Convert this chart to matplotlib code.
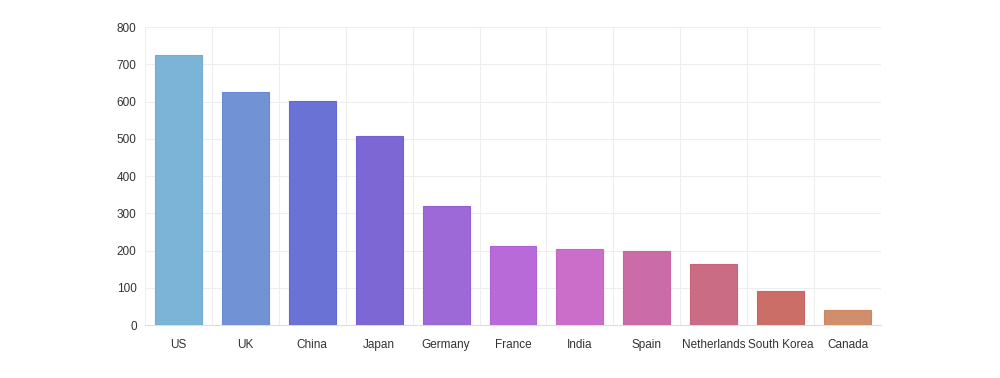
import numpy as np
import matplotlib.pyplot as plt

countries = ["US", "UK", "China", "Japan", "Germany", "France", "India",
             "Spain", "Netherlands", "South Korea", "Canada"]
values = [725, 625, 603, 508, 321, 213, 204, 198, 164, 92, 40]
colors = ["#7cb4d7", "#7193d5", "#6a72d6", "#7c67d5", "#9c69d7", "#b86ad8",
          "#ca6ec9", "#cb6ca8", "#ca6c84", "#cb6e68", "#d08e6c"]
edges = ["#70aed6", "#6a8bd5", "#6169d7", "#7460d4", "#965fd6", "#b262d8",
         "#c766c5", "#c963a2", "#c9637d", "#ca6560", "#ce8763"]

plt.rcParams["font.family"] = ["Liberation Sans", "DejaVu Sans"]

fig = plt.figure(figsize=(10, 3.78), dpi=100)
ax = fig.add_axes([0.145, 0.14, 0.736, 0.788])

x = np.arange(len(countries))
ax.bar(x, values, width=0.7, color=colors, edgecolor=edges, linewidth=0.8, zorder=3)

ax.set_xlim(-0.5, len(countries) - 0.5)
ax.set_ylim(0, 800)
ax.set_yticks(range(0, 801, 100))
ax.set_xticks(x)
ax.set_xticklabels(countries)

# grid: horizontal at ticks, vertical at band edges
for y in range(100, 801, 100):
  ax.axhline(y, color="#eeeeee", lw=0.8, zorder=0)
for b in np.arange(-0.5, len(countries), 1.0):
  ax.axvline(b, color="#eeeeee", lw=0.8, zorder=0)

for s in ["top", "right", "left"]:
  ax.spines[s].set_visible(False)
ax.spines["bottom"].set_color("#dddddd")
ax.tick_params(axis="both", length=0, labelsize=8.5, colors="#333333")
ax.tick_params(axis="x", pad=10)
ax.tick_params(axis="y", pad=6)

fig.savefig("out.png", dpi=100)
